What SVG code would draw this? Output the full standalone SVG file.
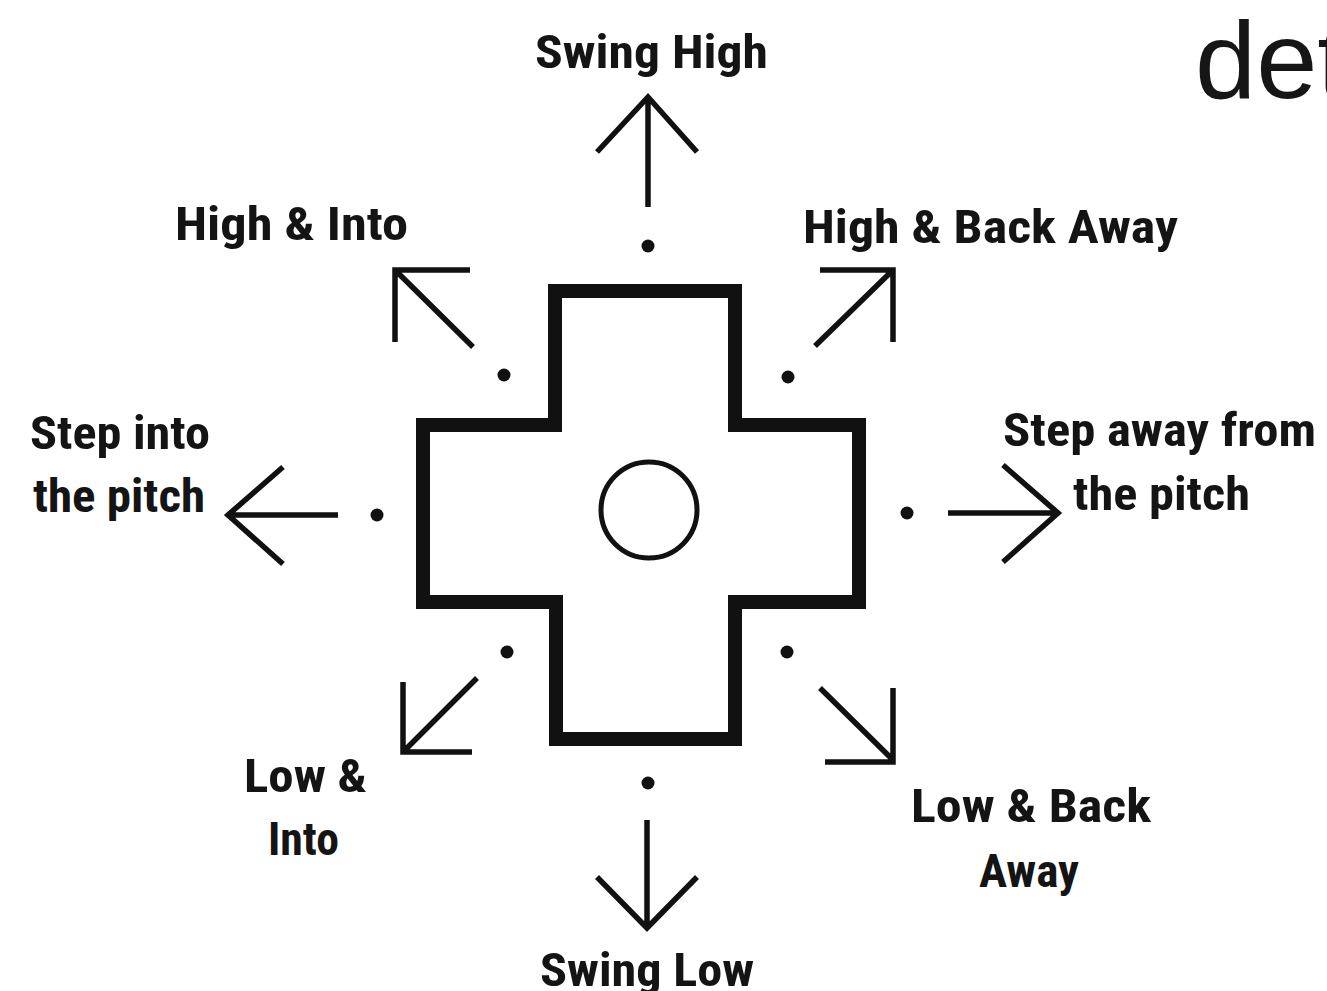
<svg xmlns="http://www.w3.org/2000/svg" width="1327" height="991" viewBox="0 0 1327 991">
  <style>
    .lbl { font-family: "Liberation Sans Narrow", "Roboto Condensed", "DejaVu Sans Condensed", "Liberation Sans", sans-serif; font-weight: bold; font-size: 46px; fill: #141414; }
    .big { font-family: "Liberation Sans", Arial, sans-serif; font-size: 110px; fill: #161616; }
    .arrow { fill: none; stroke: #111; stroke-width: 5.5; stroke-linecap: butt; stroke-linejoin: miter; }
    .dot { fill: #111; }
    .cross { fill: #fff; stroke: #111; stroke-width: 14; stroke-linejoin: miter; }
    .ring { fill: none; stroke: #111; stroke-width: 5; }
  </style>
  <rect width="1327" height="991" fill="#fff"/>

  <g id="title">
    <text class="big" x="1195" y="98">det</text>
  </g>

  <g id="dpad">
    <path class="cross" d="M555,291 H735 V425 H859 V602 H735 V739 H556 V602 H423 V425 H555 Z"/>
    <circle class="ring" cx="649" cy="510" r="48"/>
  </g>

  <g id="connectors">
    <path class="arrow" d="M648,207 V97 M597,152 L648,97 L697,152"/>
    <path class="arrow" d="M647,820 V928 M597,877 L647,928 L697,877"/>
    <path class="arrow" d="M338,515 H228 M283,467 L228,515 L283,564"/>
    <path class="arrow" d="M948,513 H1058 M1003,465 L1058,513 L1003,562"/>
    <path class="arrow" d="M473,347 L395,270 M395,342 V270 H470"/>
    <path class="arrow" d="M815,346 L893,270 M820,270 H893 V342"/>
    <path class="arrow" d="M477,678 L403,752 M403,682 V752 H472"/>
    <path class="arrow" d="M820,688 L893,760 M893,688 V762 H825"/>
    <circle class="dot" cx="648" cy="246" r="6.5"/>
    <circle class="dot" cx="504" cy="375" r="6.5"/>
    <circle class="dot" cx="788" cy="377" r="6.5"/>
    <circle class="dot" cx="377" cy="515" r="6.5"/>
    <circle class="dot" cx="907" cy="513" r="6.5"/>
    <circle class="dot" cx="507" cy="652" r="6.5"/>
    <circle class="dot" cx="787" cy="652" r="6.5"/>
    <circle class="dot" cx="648" cy="783" r="6.5"/>
  </g>

  <g id="label-swing-high">
    <text class="lbl" x="535" y="68" textLength="233" lengthAdjust="spacingAndGlyphs">Swing High</text>
  </g>
  <g id="label-high-into">
    <text class="lbl" x="175" y="240" textLength="233" lengthAdjust="spacingAndGlyphs">High &amp; Into</text>
  </g>
  <g id="label-high-back-away">
    <text class="lbl" x="803" y="243" textLength="375" lengthAdjust="spacingAndGlyphs">High &amp; Back Away</text>
  </g>
  <g id="label-step-into">
    <text class="lbl" x="30" y="449" textLength="180" lengthAdjust="spacingAndGlyphs">Step into</text>
    <text class="lbl" x="33" y="512" textLength="172" lengthAdjust="spacingAndGlyphs">the pitch</text>
  </g>
  <g id="label-step-away">
    <text class="lbl" x="1003" y="446" textLength="313" lengthAdjust="spacingAndGlyphs">Step away from</text>
    <text class="lbl" x="1073" y="510" textLength="177" lengthAdjust="spacingAndGlyphs">the pitch</text>
  </g>
  <g id="label-low-into">
    <text class="lbl" x="244" y="792" textLength="123" lengthAdjust="spacingAndGlyphs">Low &amp;</text>
    <text class="lbl" x="268" y="855" textLength="71" lengthAdjust="spacingAndGlyphs">Into</text>
  </g>
  <g id="label-low-back-away">
    <text class="lbl" x="911" y="822" textLength="240" lengthAdjust="spacingAndGlyphs">Low &amp; Back</text>
    <text class="lbl" x="979" y="887" textLength="100" lengthAdjust="spacingAndGlyphs">Away</text>
  </g>
  <g id="label-swing-low">
    <text class="lbl" x="540" y="986" textLength="214" lengthAdjust="spacingAndGlyphs">Swing Low</text>
  </g>
</svg>
